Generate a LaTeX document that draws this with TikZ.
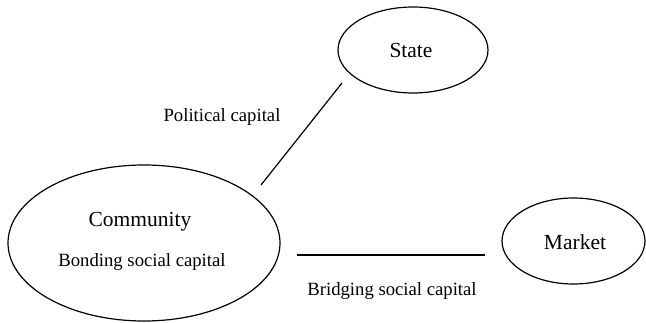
\documentclass[tikz,border=0pt]{standalone}
\usepackage{fontspec}
\setmainfont{Liberation Serif}
\usetikzlibrary{shapes.geometric}
\begin{document}
\begin{tikzpicture}[x=1pt,y=-1pt,
  actor/.style={draw, ellipse, line width=1.2pt, inner sep=0pt},
  bigtext/.style={font=\fontsize{21.5}{24}\selectfont, inner sep=0pt},
  smalltext/.style={font=\fontsize{18.7}{21}\selectfont, inner sep=0pt},
  link/.style={line width=1.2pt}]
\useasboundingbox (0,0) rectangle (646,323);
% the three actors
\node[actor, minimum width=272pt, minimum height=156pt] (community) at (144,243) {};
\node[actor, minimum width=150pt, minimum height=86pt] (state) at (413,50) {};
\node[actor, minimum width=143pt, minimum height=86pt] (market) at (573.5,241) {};
% actor names and capital types
\node[bigtext] (communitylabel) at (140,222) {Community};
\node[smalltext] (bonding) at (142,262) {Bonding social capital};
\node[bigtext] (statelabel) at (411,50) {State};
\node[bigtext] (marketlabel) at (575,242) {Market};
\node[smalltext] (political) at (222,117) {Political capital};
\node[smalltext] (bridging) at (392,291) {Bridging social capital};
% links between actors
\coordinate (cs1) at (261,185);
\coordinate (cs2) at (342,83);
\coordinate (cm1) at (297,255);
\coordinate (cm2) at (485,255);
\draw[link] (cs1) -- (cs2);
\draw[link] (cm1) -- (cm2);
\end{tikzpicture}
\end{document}
